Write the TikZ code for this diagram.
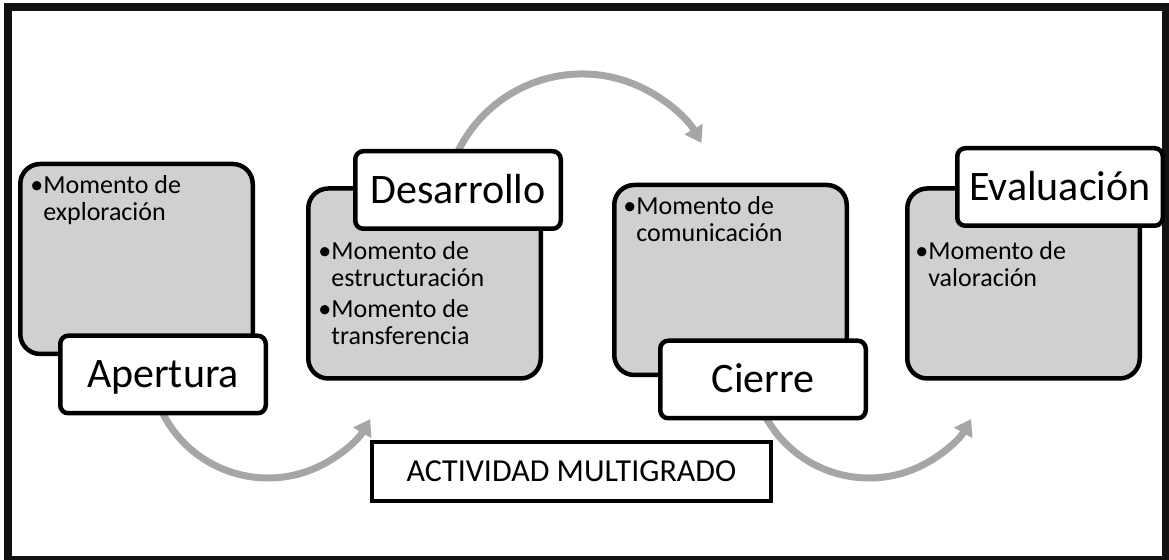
\documentclass[tikz,border=0pt]{standalone}
\usepackage{fontspec}
\setmainfont{Carlito}
\usetikzlibrary{arrows.meta}
\definecolor{grisfondo}{RGB}{208,208,208}
\definecolor{grisflecha}{RGB}{166,166,166}
\tikzset{
  momento/.style={draw=black, line width=2.25pt, fill=grisfondo, rounded corners=10pt,
    minimum width=116.25pt, minimum height=95pt, inner sep=0pt},
  fase/.style={draw=black, line width=2.25pt, fill=white, rounded corners=4pt,
    minimum width=102.75pt, minimum height=38.75pt, inner sep=0pt,
    font=\fontsize{21}{25}\selectfont, text height=13.5pt, text depth=0pt},
  lista/.style={anchor=base west, inner sep=0pt, font=\fontsize{13}{13.5}\selectfont},
  flecha/.style={grisflecha, line width=3.5pt, -{Triangle[width=10pt,length=8pt]}}
}
\begin{document}
\begin{tikzpicture}[x=0.5pt, y=0.5pt]
    \useasboundingbox (0,0) rectangle (1169,560);
    % Frame
    \draw[line width=4pt, black!93] (8,0) rectangle (1166,553);
    % Arrows
    \coordinate (c1) at (268,200);
    \coordinate (c2) at (582,348);
    \coordinate (c3) at (869,200);
    \draw[flecha] (c1) ++(205:118) arc[start angle=205, end angle=330, radius=118];
    \draw[flecha] (c2) ++(155:138) arc[start angle=155, end angle=30, radius=138];
    \draw[flecha] (c3) ++(205:118) arc[start angle=205, end angle=330, radius=118];
    % Moments
    \node[momento] (ape-m) at (136.5,301) {};
    \node[momento] (des-m) at (424.5,276.5) {};
    \node[momento] (cie-m) at (730.5,280) {};
    \node[momento] (eva-m) at (1023.5,276.5) {};
    \node[lista] (ape-t) at (30,366)
      {\begin{tabular}[t]{@{}l@{}l@{}}•&Momento de\\&exploración\end{tabular}};
    \node[lista] (des-t) at (318,300)
      {\begin{tabular}[t]{@{}l@{}l@{}}•&Momento de\\&estructuración\\[2pt]•&Momento de\\&transferencia\end{tabular}};
    \node[lista] (cie-t) at (623,345)
      {\begin{tabular}[t]{@{}l@{}l@{}}•&Momento de\\&comunicación\end{tabular}};
    \node[lista] (eva-t) at (915,300)
      {\begin{tabular}[t]{@{}l@{}l@{}}•&Momento de\\&valoración\end{tabular}};
    % Phases
    \node[fase] (ape) at (163,185.5) {Apertura};
    \node[fase] (des) at (458,370) {Desarrollo};
    \node[fase] (cie) at (763,180.5) {Cierre};
    \node[fase] (eva) at (1060,373) {Evaluación};
    % Title
    \node[draw=black, line width=2pt, minimum width=199.5pt, minimum height=29.5pt,
      font=\fontsize{16}{19}\selectfont] (act) at (571.5,88.5) {ACTIVIDAD MULTIGRADO};
\end{tikzpicture}
\end{document}
